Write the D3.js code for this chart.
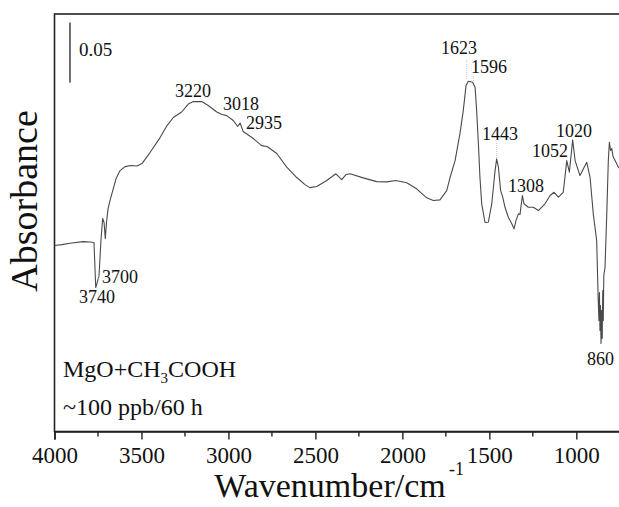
<!DOCTYPE html>
<html>
<head>
<meta charset="utf-8">
<script src="https://cdn.jsdelivr.net/npm/d3@7/dist/d3.min.js"></script>
<style>
  body { margin: 0; background: #fff; }
  svg { display: block; }
  text { font-family: "Liberation Serif", "Times New Roman", serif; fill: #111; }
</style>
</head>
<body>
<div id="chart"></div>
<script>

// spectrum (cm-1, absorbance)
var wavenumber = [4000, 3957, 3911, 3836, 3796, 3773, 3763, 3756, 3744, 3733,
  3723, 3715, 3708, 3701, 3692, 3681, 3662, 3646, 3623, 3595,
  3560, 3526, 3497, 3451, 3393, 3353, 3317, 3269, 3231, 3202,
  3154, 3116, 3067, 3037, 3010, 2972, 2947, 2933, 2915, 2857,
  2809, 2778, 2722, 2665, 2607, 2560, 2531, 2492, 2435, 2382,
  2349, 2324, 2301, 2225, 2148, 2090, 2037, 1975, 1918, 1860,
  1822, 1784, 1745, 1726, 1697, 1669, 1650, 1634, 1621, 1596,
  1582, 1573, 1563, 1554, 1544, 1525, 1506, 1486, 1467, 1458,
  1448, 1435, 1423, 1410, 1391, 1371, 1358, 1347, 1333, 1324,
  1310, 1301, 1276, 1247, 1218, 1180, 1151, 1128, 1103, 1075,
  1055, 1040, 1021, 1007, 979, 940, 921, 902, 883, 874,
  870, 867, 864, 861, 858, 855, 851, 848, 845, 842,
  835, 825, 816, 810, 803, 796, 789, 777, 758, 743];
var absorbance = [0.155, 0.1558, 0.1569, 0.1583, 0.1579, 0.1575, 0.120, 0.1233, 0.130, 0.1592,
  0.1775, 0.1742, 0.1608, 0.1742, 0.1858, 0.1925, 0.2025, 0.2108, 0.2175, 0.2208,
  0.2217, 0.2213, 0.2233, 0.2325, 0.245, 0.255, 0.2617, 0.2663, 0.2729, 0.275,
  0.275, 0.2717, 0.2663, 0.2642, 0.2633, 0.2592, 0.2542, 0.2571, 0.250, 0.2442,
  0.2383, 0.2375, 0.2317, 0.2204, 0.2117, 0.2058, 0.2033, 0.2042, 0.2092, 0.2148,
  0.210, 0.2142, 0.2148, 0.2114, 0.2083, 0.2081, 0.2092, 0.2073, 0.2023, 0.1948,
  0.1925, 0.1931, 0.2008, 0.2117, 0.2258, 0.2483, 0.2675, 0.2883, 0.2919, 0.2911,
  0.2869, 0.2675, 0.240, 0.2117, 0.190, 0.1742, 0.1744, 0.190, 0.2175, 0.2273,
  0.2203, 0.2008, 0.1953, 0.1869, 0.1786, 0.1731, 0.1689, 0.1758, 0.1814, 0.1808,
  0.1967, 0.1898, 0.1869, 0.1869, 0.1842, 0.1898, 0.1967, 0.1994, 0.1953, 0.1994,
  0.2258, 0.2161, 0.2431, 0.2258, 0.2133, 0.2244, 0.2119, 0.1808, 0.1592, 0.1092,
  0.0925, 0.1158, 0.0842, 0.105, 0.0733, 0.1008, 0.0775, 0.1175, 0.0925, 0.130,
  0.1367, 0.1808, 0.2258, 0.2411, 0.2342, 0.2358, 0.2292, 0.2258, 0.2203, 0.2175];

var majorTicks = [4000, 3500, 3000, 2500, 2000, 1500, 1000];
var minorTicks = [3750, 3250, 2750, 2250, 1750, 1250, 750];
var peakLabels = ["3740", "3700", "3220", "3018", "2935", "1623", "1596", "1443", "1308", "1052", "1020", "860"];
var scaleBarValue = 0.05;

var width = 619, height = 507;
var margin = {top: 14, left: 54.5, bottom: 431.5};

var svg = d3.select("#chart").append("svg")
  .attr("width", width)
  .attr("height", height);

var x = d3.scaleLinear().domain([4000, 750]).range([margin.left, 619.8]);
var y = d3.scaleLinear().domain([0, 0.348]).range([margin.bottom, margin.top]);

// frame (right side falls just outside the window)
svg.append("rect")
  .attr("x", x(4000)).attr("y", y(0.348))
  .attr("width", x(750) - x(4000)).attr("height", y(0) - y(0.348))
  .attr("fill", "none").attr("stroke", "#222").attr("stroke-width", 1.6);

// bottom axis
var xAxis = d3.axisBottom(x).tickValues(majorTicks).tickSize(8).tickPadding(7)
  .tickFormat(d3.format("d"));
var gx = svg.append("g").attr("transform", "translate(0," + margin.bottom + ")").call(xAxis);
gx.select(".domain").attr("stroke", "#222").attr("stroke-width", 1.6);
gx.selectAll(".tick line").attr("stroke", "#222").attr("stroke-width", 1.4);
gx.selectAll(".tick text").attr("font-size", 23).attr("font-family", "Liberation Serif").attr("fill", "#111");

svg.append("g").selectAll("line")
  .data(minorTicks)
  .enter()
  .append("line")
  .attr("x1", function(d) { return x(d); })
  .attr("x2", function(d) { return x(d); })
  .attr("y1", margin.bottom)
  .attr("y2", margin.bottom + 5)
  .attr("stroke", "#222")
  .attr("stroke-width", 1.4);

// spectrum
var pts = wavenumber.map(function(d, i) { return [d, absorbance[i]]; });
var line = d3.line()
  .x(function(d) { return x(d[0]); })
  .y(function(d) { return y(d[1]); });

svg.append("path")
  .datum(pts)
  .attr("d", line)
  .attr("fill", "none")
  .attr("stroke", "#4a4a4a")
  .attr("stroke-width", 1.1)
  .attr("stroke-linejoin", "round");

// scale bar
svg.append("line")
  .attr("x1", x(3911)).attr("x2", x(3911))
  .attr("y1", y(0.341)).attr("y2", y(0.341 - scaleBarValue))
  .attr("stroke", "#333").attr("stroke-width", 1.4);
svg.append("text")
  .attr("x", 79).attr("y", 56)
  .attr("font-size", 19)
  .text("0.05");

// peak labels: text start x, baseline y
var labelPos = {
  "3740": [79, 303], "3700": [102, 283], "3220": [175, 97], "3018": [223, 110],
  "2935": [246, 129], "1623": [441, 54], "1596": [471, 73], "1443": [482, 140],
  "1308": [508, 192], "1052": [532, 157], "1020": [556, 137], "860": [587, 365]
};
svg.append("g").selectAll("text")
  .data(peakLabels)
  .enter()
  .append("text")
  .attr("x", function(d) { return labelPos[d][0]; })
  .attr("y", function(d) { return labelPos[d][1]; })
  .attr("font-size", 18)
  .text(function(d) { return d; });

// faint guide lines under some labels
var guides = [[1630, 60, 80], [1592, 76, 82], [1458, 143, 158], [3747, 276, 281]];
svg.append("g").selectAll("line")
  .data(guides)
  .enter()
  .append("line")
  .attr("x1", function(d) { return x(d[0]); })
  .attr("x2", function(d) { return x(d[0]); })
  .attr("y1", function(d) { return d[1]; })
  .attr("y2", function(d) { return d[2]; })
  .attr("stroke", "#bbb")
  .attr("stroke-width", 0.8)
  .attr("stroke-dasharray", "1,1");

// sample text
var t1 = svg.append("text").attr("x", 63).attr("y", 377).attr("font-size", 24);
t1.append("tspan").text("MgO+CH");
t1.append("tspan").attr("font-size", 15).attr("dy", 6).text("3");
t1.append("tspan").attr("dy", -6).text("COOH");
svg.append("text").attr("x", 63).attr("y", 415).attr("font-size", 24).text("~100 ppb/60 h");

// axis titles
svg.append("text")
  .attr("transform", "translate(37,201) rotate(-90)")
  .attr("text-anchor", "middle")
  .attr("font-size", 38)
  .text("Absorbance");

svg.append("text")
  .attr("x", 330).attr("y", 497)
  .attr("text-anchor", "middle")
  .attr("font-size", 34)
  .text("Wavenumber/cm");
svg.append("text")
  .attr("x", 449).attr("y", 475)
  .attr("font-size", 18)
  .text("-1");

</script>
</body>
</html>
